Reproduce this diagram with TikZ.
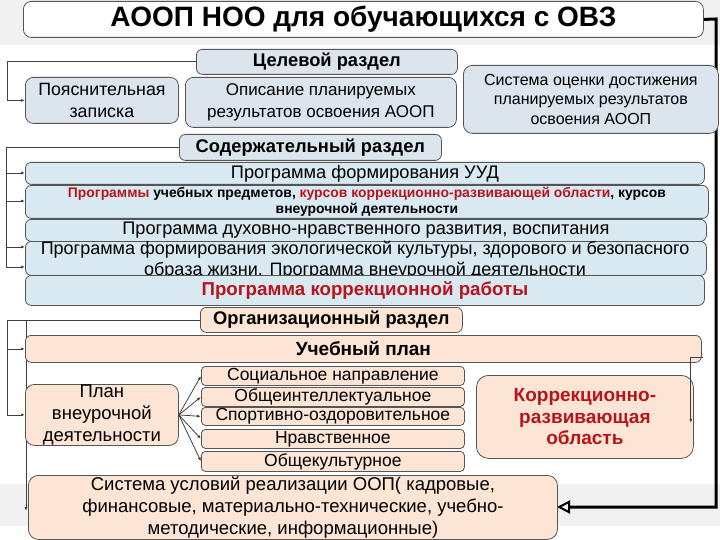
\documentclass[tikz,border=0pt]{standalone}
\usepackage{fontspec}
\setmainfont{Liberation Sans}
\usetikzlibrary{arrows.meta,calc}
\definecolor{bgray}{HTML}{F1F1F1}
\definecolor{bord}{HTML}{555555}
\definecolor{blueA}{HTML}{DCE4EE}
\definecolor{blueB}{HTML}{D9E9F1}
\definecolor{peach}{HTML}{FCE5D4}
\definecolor{dred}{HTML}{B8141C}
\definecolor{lgray}{HTML}{404040}
\begin{document}
\begin{tikzpicture}[x=1pt,y=-1pt,
  box/.style={draw=bord,line width=0.8pt,rounded corners=6pt,inner sep=0pt,anchor=north west,align=center},
  bA/.style={box,fill=blueA},
  bB/.style={box,fill=blueB},
  bP/.style={box,fill=peach},
  conn/.style={draw=lgray,line width=0.8pt,-{Latex[length=4pt,width=3pt]}},
  plain/.style={draw=lgray,line width=0.8pt},
  big/.style={draw=black,line width=3pt,-{Triangle[open,length=13pt,width=13pt,line width=2pt]}},
  fA/.style={font=\fontsize{17.5}{22}\selectfont},
  fB/.style={font=\fontsize{18.2}{21}\selectfont},
  fH/.style={font=\bfseries\fontsize{18.3}{20}\selectfont}
]
\useasboundingbox (0,0) rectangle (720,540);
\fill[white] (0,0) rectangle (720,540);
\fill[bgray] (0,0) rectangle (720,45);
\fill[bgray] (0,484) rectangle (720,526);

% title
\node[box,fill=white,minimum width=680pt,minimum height=36pt,rounded corners=8pt,font=\bfseries\fontsize{28}{30}\selectfont] (title) at (23,1) {АООП НОО для обучающихся с ОВЗ};

\node[bA,fH,minimum width=261pt,minimum height=25pt] (tsel) at (196,49) {Целевой раздел};
\node[bA,font=\fontsize{17.8}{22}\selectfont,minimum width=153pt,minimum height=46pt,rounded corners=8pt] (poy) at (25,77) {Пояснительная\\записка};
\node[bA,font=\fontsize{17}{22}\selectfont,minimum width=271pt,minimum height=50pt,rounded corners=8pt] (opis) at (185,77) {Описание планируемых\\результатов освоения АООП};

\node[bA,fH,minimum width=262pt,minimum height=26pt] (sod) at (179,134) {Содержательный раздел};

\node[bP,fH,minimum width=262pt,minimum height=25pt] (org) at (200,307) {Организационный раздел};

% connectors (behind boxes)
\draw[plain] (tsel.west) -- ++(-189,0) coordinate (tv);
\draw[conn] (tv) |- (poy.west);

\draw[plain] (sod.west) -- ++(-173,0) coordinate (sv);
\coordinate (p1w) at (25,173);
\coordinate (p2w) at (25,201);
\coordinate (p4a) at (25,247);
\coordinate (p4b) at (25,267);
\draw[conn] (sv) |- (p1w);
\draw[conn] (sv) |- (p2w);
\draw[conn] (sv) |- (p4a);
\draw[conn] (sv) |- (p4b);

\draw[plain] (org.west) -- ++(-174,0) coordinate (ov1) -- ++(-19,0) coordinate (ov);
\coordinate (uslend) at (26,511);
\draw[conn] (ov1) -- (uslend);

\draw[big] (title.east) -- (716,19) -- (716,507) -- (557,507);

% system
\node[bA,font=\fontsize{16}{19.5}\selectfont,minimum width=255pt,minimum height=68pt,rounded corners=9pt] (sist) at (463,65) {Система оценки достижения\\планируемых результатов\\освоения АООП};

% content programs
\node[bB,fB,minimum width=679pt,minimum height=22pt] (p1) at (25,162) {Программа формирования УУД};
\node[bB,font=\bfseries\fontsize{13.9}{16.5}\selectfont,minimum width=683pt,minimum height=33pt] (p2) at (25,185) {{\color{dred}Программы} учебных предметов, {\color{dred}курсов коррекционно-развивающей области}, курсов\\внеурочной деятельности};
\node[bB,fB,minimum width=681pt,minimum height=22pt] (p3) at (25,219) {Программа духовно-нравственного развития, воспитания};
\node[bB,fB,minimum width=681pt,minimum height=34pt] (p4) at (25,241) {};
\node[font=\fontsize{18}{20.5}\selectfont,align=center,inner sep=0pt] (p4t) at (365,260) {Программа формирования экологической культуры, здорового и безопасного\\образа жизни. Программа внеурочной деятельности};
\node[bB,font=\bfseries\fontsize{18.7}{20}\selectfont,text=dred,minimum width=679pt,minimum height=30pt] (p5) at (25,275) {Программа коррекционной работы};

% organisational
\node[bP,font=\bfseries\fontsize{19}{20}\selectfont,minimum width=676pt,minimum height=27pt] (uch) at (25,335) {Учебный план};
\node[bP,font=\fontsize{18.5}{22}\selectfont,minimum width=153pt,minimum height=61pt,rounded corners=9pt] (plan) at (25,384) {План\\внеурочной\\деятельности};
\node[bP,fA,minimum width=263pt,minimum height=19pt,rounded corners=4pt] (s1) at (201,366) {Социальное направление};
\node[bP,fA,minimum width=263pt,minimum height=19pt,rounded corners=4pt] (s2) at (201,387) {Общеинтеллектуальное};
\node[bP,fA,minimum width=263pt,minimum height=18pt,rounded corners=4pt] (s3) at (201,407) {Спортивно-оздоровительное};
\node[bP,fA,minimum width=263pt,minimum height=19pt,rounded corners=4pt] (s4) at (201,429) {Нравственное};
\node[bP,fA,minimum width=263pt,minimum height=20pt,rounded corners=4pt] (s5) at (201,451) {Общекультурное};
\node[bP,text=dred,font=\bfseries\fontsize{19}{21.5}\selectfont,minimum width=217pt,minimum height=83pt,rounded corners=12pt] (korr) at (476,375) {Коррекционно-\\развивающая\\область};
\node[bP,font=\fontsize{18.5}{22}\selectfont,minimum width=529pt,minimum height=64pt,rounded corners=10pt] (usl) at (28,475) {Система условий реализации ООП( кадровые,\\финансовые, материально-технические, учебно-\\методические, информационные)};

% connectors on top
\draw[conn] (ov) |- (uch.west);
\draw[conn] (ov) |- (plan.west);
\foreach \s in {s1,s2,s3,s4,s5} \draw[conn] (plan.east) -- (\s.west);
\draw[conn] ($(uch.south east)+(1,-5)$) -| ($(korr.east)+(-3,6)$);
\end{tikzpicture}
\end{document}
